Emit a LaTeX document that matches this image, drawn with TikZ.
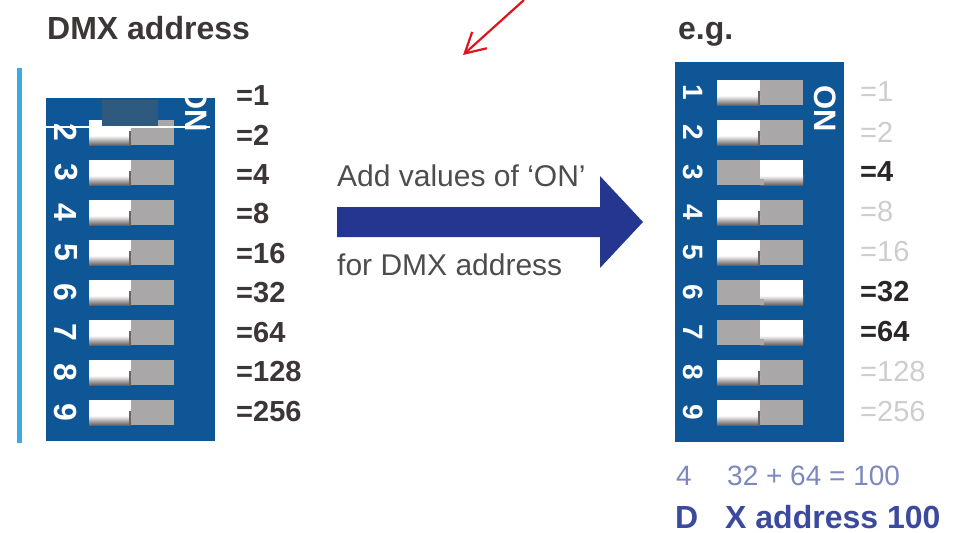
\documentclass[tikz,border=0pt]{standalone}
\usepackage{fontspec}
\setmainfont{Liberation Sans}
\usetikzlibrary{arrows.meta}
\definecolor{panelblue}{HTML}{0F5697}
\definecolor{swgray}{HTML}{A9A7A7}
\definecolor{knobshade}{HTML}{6A6262}
\definecolor{titlegray}{HTML}{3D3636}
\definecolor{labgray}{HTML}{CDCDCD}
\definecolor{labdark}{HTML}{2B2626}
\definecolor{navy}{HTML}{24368F}
\definecolor{sumcol}{HTML}{7C88BE}
\definecolor{addrcol}{HTML}{3B4A9E}
\definecolor{txtgray}{HTML}{4D4D4D}
\definecolor{cyanline}{HTML}{3AABE8}
\definecolor{patchblue}{HTML}{2F5A80}
\definecolor{redarrow}{HTML}{E0141E}
\tikzset{
  panel/.style={fill=panelblue},
  swbody/.style={fill=swgray},
  knob/.style={fill=white},
  knobshd/.style={top color=white,bottom color=knobshade},
  digitL/.style={text=white,inner sep=0,rotate=-90,font=\bfseries\fontsize{32}{32}\selectfont},
  digitR/.style={text=white,inner sep=0,rotate=-90,font=\bfseries\fontsize{28}{28}\selectfont},
  onlab/.style={text=white,inner sep=0,rotate=-90,font=\bfseries\fontsize{31}{31}\selectfont},
  labL/.style={anchor=west,inner sep=0,text=titlegray,font=\bfseries\fontsize{29}{29}\selectfont},
  labon/.style={anchor=west,inner sep=0,text=labdark,font=\bfseries\fontsize{29}{29}\selectfont},
  laboff/.style={anchor=west,inner sep=0,text=labgray,font=\fontsize{29}{29}\selectfont},
  title/.style={anchor=base west,inner sep=0,text=titlegray,font=\bfseries\fontsize{32}{32}\selectfont},
  note/.style={anchor=base west,inner sep=0,text=txtgray,font=\fontsize{30}{30}\selectfont},
  sumtxt/.style={anchor=base west,inner sep=0,text=sumcol,font=\fontsize{28}{28}\selectfont},
  addrtxt/.style={anchor=base west,inner sep=0,text=addrcol,font=\bfseries\fontsize{32}{32}\selectfont},
}
\begin{document}
\begin{tikzpicture}[x=1pt,y=-1pt]
\useasboundingbox (0,0) rectangle (954,533);
% titles
\node[title] (t1) at (47,39) {DMX address};
\node[title] (t2) at (678,39) {e.g.};
% cyan side line
\draw[cyanline,line width=5] (19.5,68) -- (19.5,443);
% ---------- left panel ----------
\begin{scope}
  \clip (40,98) rectangle (225,450);
  \fill[panel] (46,62) rectangle (215,441);
  \foreach \i in {2,...,9}{
    \pgfmathsetmacro\yc{92.5+40*(\i-1)}
    \fill[swbody] (89,\yc-12.5) rectangle (174,\yc+12.5);
    \fill[knob] (89,\yc-12.5) rectangle (131,\yc+12.5);
    \shade[knobshd] (89,\yc+3) rectangle (131,\yc+12.5);
    \fill[knobshade] (128.5,\yc-2) rectangle (131,\yc+12.5);
    \node[digitL] (ld\i) at (66,\yc) {\i};
  }
  \node[onlab] (lon) at (196,109) {ON};
\end{scope}
\fill[patchblue] (102,100) rectangle (158,127);
\draw[white,line width=2] (46,127) -- (210,127);
% left values
\foreach \i/\v in {1/1,2/2,3/4,4/8,5/16,6/32,7/64,8/128,9/256}{
  \pgfmathsetmacro\yl{95.5+39.5*(\i-1)}
  \node[labL] (lv\i) at (236,\yl) {=\v};
}
% ---------- middle arrow ----------
\coordinate (a1) at (337,207);
\coordinate (a2) at (600,207);
\coordinate (a3) at (600,176);
\coordinate (a4) at (643,222);
\coordinate (a5) at (600,268);
\coordinate (a6) at (600,237);
\coordinate (a7) at (337,237);
\fill[navy] (a1) -- (a2) -- (a3) -- (a4) -- (a5) -- (a6) -- (a7) -- cycle;
\node[note] (n1) at (337,186) {Add values of ‘ON’};
\node[note] (n2) at (337,275) {for DMX address};
% red arrow
\coordinate (rs) at (524,0);
\coordinate (rt) at (463,55);
\draw[redarrow,line width=2.2,-{Straight Barb[length=20pt,width=22pt]}] (rs) -- (rt);
% ---------- right panel ----------
\fill[panel] (675,62) rectangle (844,442);
\foreach \i/\s in {1/0,2/0,3/1,4/0,5/0,6/1,7/1,8/0,9/0}{
  \pgfmathsetmacro\yc{92.5+40*(\i-1)}
  \fill[swbody] (717,\yc-12.5) rectangle (803,\yc+12.5);
  \ifnum\s=1
    \fill[knob] (760,\yc-12.5) rectangle (803,\yc+12.5);
    \shade[knobshd] (760,\yc+3) rectangle (803,\yc+12.5);
    \fill[swgray] (760,\yc+6) rectangle (764,\yc+12.5);
  \else
    \fill[knob] (717,\yc-12.5) rectangle (760,\yc+12.5);
    \shade[knobshd] (717,\yc+3) rectangle (760,\yc+12.5);
    \fill[knobshade] (757.5,\yc-2) rectangle (760,\yc+12.5);
  \fi
  \node[digitR] (rd\i) at (693,\yc) {\i};
}
\node[onlab] (ron) at (825,109) {ON};
% right values
\foreach \i/\v/\s in {1/1/0,2/2/0,3/4/1,4/8/0,5/16/0,6/32/1,7/64/1,8/128/0,9/256/0}{
  \pgfmathsetmacro\yr{92+40*(\i-1)}
  \ifnum\s=1
    \node[labon] (rv\i) at (860,\yr) {=\v};
  \else
    \node[laboff] (rv\i) at (860,\yr) {=\v};
  \fi
}
% bottom sums
\node[sumtxt] (s1) at (676,485) {4};
\node[sumtxt] (s2) at (727,485) {32 + 64 = 100};
\node[addrtxt] (d1) at (675,528) {D};
\node[addrtxt] (d2) at (725,528) {X address 100};
\end{tikzpicture}
\end{document}
